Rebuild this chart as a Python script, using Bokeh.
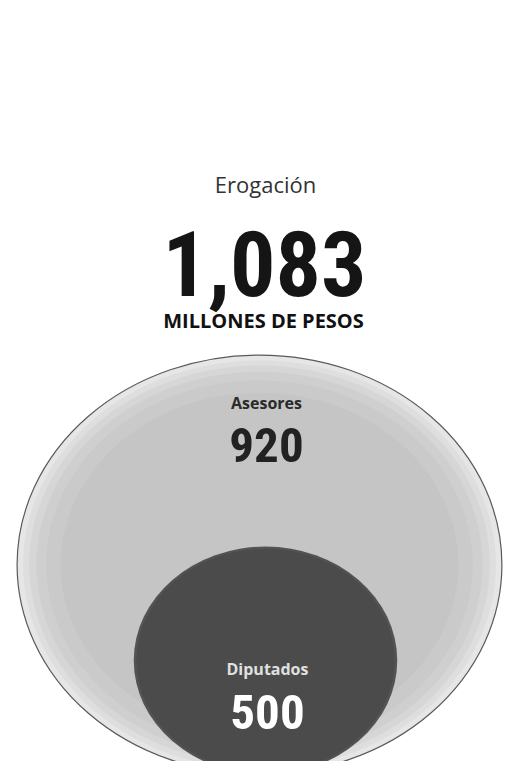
from bokeh.plotting import figure
from bokeh.models import Range1d, ColumnDataSource
from bokeh.core.properties import value
from bokeh.embed import file_html
from bokeh.resources import INLINE

# ---- data ----
title_label = "Erogación"
total_value = "1,083"
total_unit = "MILLONES DE PESOS"
categories = ["Asesores", "Diputados"]
values = [920, 500]
value_labels = ["920", "500"]

W, H = 503, 761
p = figure(width=W, height=H, output_backend="svg", toolbar_location=None,
           x_range=Range1d(0, W), y_range=Range1d(H, 0),
           min_border=0, outline_line_color=None,
           background_fill_color="white", border_fill_color="white")
p.axis.visible = False
p.grid.visible = False

COND = value("'Roboto Condensed', 'DejaVu Sans Condensed', sans-serif")

# scale: diameter proportional to value
KX, KY = 0.527, 0.456
BOTTOM = 774
cx = [259, 265]
widths = [v * KX for v in values]
heights = [v * KY for v in values]
cy = [BOTTOM - h / 2 for h in heights]

# big ellipse (Asesores) with soft light rim
p.ellipse(x=[cx[0]], y=[cy[0]], width=[widths[0]], height=[heights[0]],
          fill_color="#e6e6e6", line_color="#5a5a5a", line_width=1.2)
for f, col in [(0.975, "#dedede"), (0.95, "#d6d6d6"), (0.92, "#cfcfcf"),
               (0.88, "#cacaca"), (0.82, "#c5c5c5")]:
    p.ellipse(x=[cx[0]], y=[cy[0]], width=[widths[0] * f],
              height=[heights[0] * f], fill_color=col, line_color=None)

# small ellipse (Diputados)
p.ellipse(x=[cx[1]], y=[cy[1]], width=[widths[1]], height=[heights[1]],
          fill_color="#535353", line_color=None)
p.ellipse(x=[cx[1]], y=[cy[1]], width=[widths[1] * 0.98], height=[heights[1] * 0.98],
          fill_color="#4b4b4b", line_color=None)

# header texts
p.text(x=[265], y=[183], text=[title_label], text_font=value("Open Sans"),
       text_font_size="22px", text_color="#333333", text_align="center",
       text_baseline="alphabetic")
p.text(x=[264], y=[263], text=[total_value], text_font=COND,
       text_font_style="bold", text_font_size="90px", text_color="#151515",
       text_align="center", text_baseline="alphabetic")
p.text(x=[263], y=[320], text=[total_unit], text_font=value("Open Sans"),
       text_font_style="bold", text_font_size="20px", text_color="#111111",
       text_align="center", text_baseline="alphabetic")

# ellipse labels
src = ColumnDataSource(dict(x=[266, 267], ycat=[402, 668], yval=[444, 711],
                            cat=categories, val=value_labels,
                            ccol=["#2a2a2a", "#e0e0e0"], vcol=["#222222", "#ffffff"]))
p.text(x="x", y="ycat", text="cat", source=src, text_font=value("Open Sans"),
       text_font_style="bold", text_font_size="16px", text_color="ccol",
       text_align="center", text_baseline="alphabetic")
p.text(x="x", y="yval", text="val", source=src, text_font=COND,
       text_font_style="bold", text_font_size="49px", text_color="vcol",
       text_align="center", text_baseline="alphabetic")

open("out.html", "w").write(file_html(p, INLINE))
